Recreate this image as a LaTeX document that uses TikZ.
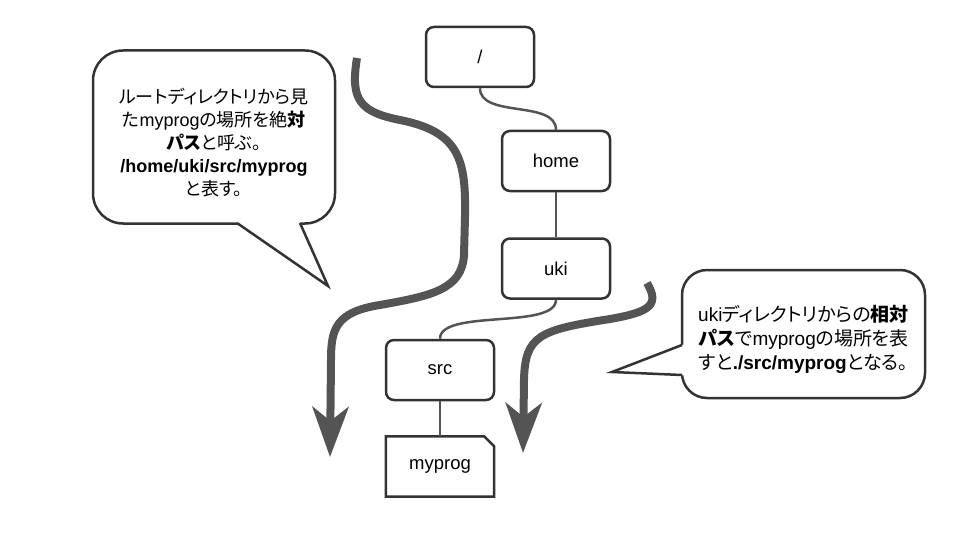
\documentclass[tikz,border=0pt]{standalone}
\usepackage{fontspec}
\setmainfont{Liberation Sans}
\newfontfamily\ja[RawFeature=+palt]{Noto Sans CJK JP}
\newcommand{\jp}[1]{{\ja #1}}
\usetikzlibrary{arrows.meta,positioning}

\begin{document}
\begin{tikzpicture}[
	x=1pt, y=-1pt,
	font=\fontsize{18.5}{22}\selectfont,
	dir/.style={draw=black!80, line width=2.5pt, rounded corners=8pt, minimum width=108pt, minimum height=60pt, inner sep=0pt},
	file/.style={minimum width=108pt, minimum height=60pt, inner sep=0pt},
	link/.style={draw=black!67, line width=2.5pt},
	route/.style={draw=black!67, line width=8pt, -{Stealth[length=50pt,width=36pt,inset=14pt]}},
	note/.style={draw=black!80, line width=2.5pt, fill=white, align=center, inner sep=0pt},
	tail/.style={draw=black!80, line width=2.5pt, line join=miter},
	]
\useasboundingbox (0,0) rectangle (960,540);

% directory tree
\node [dir] (root) at (480,57) {/};
\node [dir] (home) at (556,161) {home};
\node [dir, below=45pt of home] (uki) {uki};
\node [dir] (src) at (440,370) {src};
\node [file, below=35pt of src] (myprog) {myprog};
\draw [tail] (myprog.north west) -- ([xshift=-10pt]myprog.north east)
	-- ([yshift=-10pt]myprog.north east) -- (myprog.south east)
	-- (myprog.south west) -- cycle;

\draw [link] (root.south) .. controls +(0,30) and +(0,-30) .. (home.north);
\draw [link] (home.south) -- (uki.north);
\draw [link] (uki.south) .. controls +(0,30) and +(0,-30) .. (src.north);
\draw [link] (src.south) -- (myprog.north);

% absolute path
\coordinate (absstart) at (357,58);
\coordinate (absend) at (330,457);
\draw [route] (absstart) .. controls (350,100) and (360,112) .. (400,120)
	.. controls (460,132) and (466,160) .. (465,217) -- (464,255)
	.. controls (462,290) and (430,296) .. (380,305)
	.. controls (335,312) and (331,330) .. (331,360) -- (absend);

% relative path
\coordinate (relstart) at (647,283);
\coordinate (relend) at (523,453);
\draw [route] (relstart) .. controls (660,305) and (650,312) .. (610,319)
	.. controls (540,330) and (525,335) .. (524,380) -- (relend);

% notes
\node [note, font=\fontsize{18}{23}\selectfont, rounded corners=30pt, minimum width=242pt, minimum height=173pt] (absnote) at (214,137)
	{\rule{0pt}{26pt}\jp{ルートディレクトリから見}\\
	\jp{た}myprog\jp{の場所を絶}\textbf{\jp{対}}\\
	\textbf{\jp{パス}}\jp{と呼ぶ。}\\
	\textbf{/home/uki/src/myprog}\\
	\jp{と表す。}};
\fill [white] (237,223) -- (238,220) -- (299,220) -- (300,223) -- (328,286) -- cycle;
\draw [tail] (237,223) -- (328,286) -- (300,223);

\node [note, font=\fontsize{19}{24}\selectfont, rounded corners=25pt, minimum width=243pt, minimum height=128pt] (relnote) at (803.5,334)
	{\rule{0pt}{28pt}uki\jp{ディレクトリからの}\textbf{\jp{相対}}\\
	\textbf{\jp{パス}}\jp{で}myprog\jp{の場所を表}\\
	\jp{すと}\textbf{./src/myprog}\jp{となる。}};
\fill [white] (682,345) -- (685,344) -- (685,376) -- (682,375) -- (612,372) -- cycle;
\draw [tail] (682,345) -- (612,372) -- (682,375);
\end{tikzpicture}
\end{document}
